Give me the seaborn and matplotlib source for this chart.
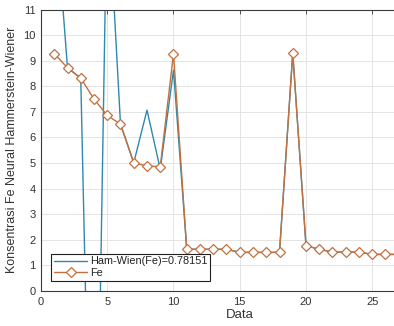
import matplotlib
matplotlib.use("Agg")
import matplotlib.pyplot as plt
import pandas as pd
import seaborn as sns

# ---- data ----
data_index = [1, 2, 3, 4, 5, 6, 7, 8, 9, 10, 11, 12, 13, 14, 15, 16, 17, 18, 19, 20,
              21, 22, 23, 24, 25, 26, 27]
fe_values = [9.28, 8.72, 8.32, 7.50, 6.86, 6.52, 5.01, 4.88, 4.86, 9.28, 1.63, 1.63,
             1.63, 1.63, 1.51, 1.51, 1.51, 1.51, 9.30, 1.77, 1.63, 1.52, 1.52, 1.52,
             1.43, 1.43, 1.43]
ham_wien_values = [15.5, 8.72, 8.32, -15.0, 16.0, 6.52, 5.01, 7.07, 4.76, 8.63, 1.63,
                   1.63, 1.63, 1.63, 1.51, 1.51, 1.51, 1.51, 9.30, 1.77, 1.63, 1.52,
                   1.52, 1.52, 1.43, 1.43, 1.43]
ham_label = "Ham-Wien(Fe)=0.78151"
fe_label = "Fe"
x_ticks = [0, 5, 10, 15, 20, 25]
y_ticks = [0, 1, 2, 3, 4, 5, 6, 7, 8, 9, 10, 11]

sns.set_theme(style="white")
plt.rcParams["font.family"] = ["Liberation Sans", "DejaVu Sans"]

df_h = pd.DataFrame({"Data": data_index, "val": ham_wien_values})
df_f = pd.DataFrame({"Data": data_index, "val": fe_values})

fig = plt.figure(figsize=(3.94, 3.26), dpi=100)
ax = fig.add_axes([41 / 394, 35 / 326, 397.5 / 394, 281.5 / 326])

blue = "#2f89ad"
orange = "#c2703f"

sns.lineplot(data=df_h, x="Data", y="val", ax=ax, color=blue, linewidth=1.0,
             label=ham_label, sort=False)
sns.lineplot(data=df_f, x="Data", y="val", ax=ax, color=orange, linewidth=1.0,
             marker="D", markersize=5, markerfacecolor="white",
             markeredgecolor=orange, markeredgewidth=0.9, label=fe_label, sort=False)

ax.set_xlim(0, 30)
ax.set_ylim(0, 11)
ax.set_xticks(x_ticks)
ax.set_yticks(y_ticks)
ax.grid(True, color="#e4e4e4", linewidth=0.7)
ax.set_axisbelow(True)

for s in ax.spines.values():
    s.set_color("#3a3a3a")
    s.set_linewidth(0.8)

ax.tick_params(axis="both", direction="in", length=3, width=0.6, color="#3a3a3a",
               labelsize=8, labelcolor="#333333", top=True, right=True, pad=4)

ax.set_xlabel("Data", fontsize=9.5, color="#333333", labelpad=2)
ax.set_ylabel("Konsentrasi Fe Neural Hammerstein-Wiener", fontsize=9, color="#333333",
              labelpad=4)

leg = ax.legend(loc="lower left", bbox_to_anchor=(10 / 397.5, 10.3 / 281.5),
                borderaxespad=0, fancybox=False, framealpha=1, edgecolor="#222222",
                fontsize=7.8, handlelength=3.1, handletextpad=0.25, borderpad=0.25,
                labelspacing=0.15)
leg.get_frame().set_linewidth(0.8)
for t in leg.get_texts():
    t.set_color("#222222")

fig.savefig("out.png", dpi=100)
